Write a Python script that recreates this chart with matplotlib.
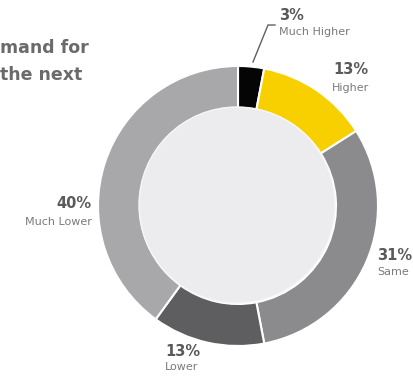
import matplotlib
matplotlib.use("Agg")
import matplotlib.pyplot as plt
from matplotlib.patches import Circle

# data
categories = ['Much Higher', 'Higher', 'Same', 'Lower', 'Much Lower']
shares = [3, 13, 31, 13, 40]
colors = ['#050505', '#f8d000', '#8b8b8d', '#5e5e60', '#a8a8aa']

W, H = 414, 376

fig = plt.figure(figsize=(W / 100, H / 100), dpi=100)
ax = fig.add_axes([0, 0, 1, 1])

def py(y):
    # pixel row (from top) -> data y
    return H - y

ax.pie(shares, colors=colors, startangle=90, counterclock=False,
       center=(238, py(206)), radius=140,
       wedgeprops=dict(width=42, edgecolor='white', linewidth=1.5))
ax.add_patch(Circle((237, py(205)), 98, facecolor='#ececee', edgecolor='#f6f6f6', lw=1, zorder=3))

ax.set_xlim(0, W)
ax.set_ylim(0, H)
ax.set_aspect('auto')
ax.axis('off')

pct_kw = dict(fontsize=10.5, fontweight='bold', color='#5a5a5a', va='center')
lab_kw = dict(fontsize=8, color='#7a7a7a', va='center')

# label positions (pixel coords), alignment
label_pos = {
    'Much Higher': (279, 15, 32, 'left'),
    'Higher': (351, 70, 88, 'center'),
    'Same': (377, 255, 272, 'left'),
    'Lower': (165, 352, 367, 'left'),
    'Much Lower': (92, 203, 222, 'right'),
}
for name, val in zip(categories, shares):
    x, y1, y2, ha = label_pos[name]
    ax.text(x, py(y1), f'{val}%', ha=ha, **pct_kw)
    ax.text(x, py(y2), name, ha=ha, **lab_kw)

# leader line for the small slice
ax.plot([253, 268, 275], [py(62), py(25), py(25)], color='#606060', lw=1, zorder=4)

# truncated heading at the left
ax.text(0, py(48), 'mand for', fontsize=12.5, fontweight='bold', color='#6a6a6a', va='center', ha='left')
ax.text(0, py(75), 'the next', fontsize=12.5, fontweight='bold', color='#6a6a6a', va='center', ha='left')

fig.savefig('out.png', dpi=100)
